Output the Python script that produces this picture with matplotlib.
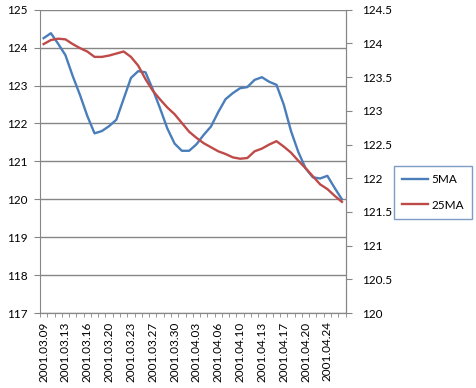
import matplotlib
matplotlib.use('Agg')
import matplotlib.pyplot as plt
import numpy as np

plt.rcParams['font.family'] = ['Lato', 'DejaVu Sans']

# dates (trading days incl. saturdays)
dates = ['2001.03.09', '2001.03.10', '2001.03.12', '2001.03.13', '2001.03.14', '2001.03.15',
         '2001.03.16', '2001.03.17', '2001.03.19', '2001.03.20', '2001.03.21', '2001.03.22',
         '2001.03.23', '2001.03.24', '2001.03.26', '2001.03.27', '2001.03.28', '2001.03.29',
         '2001.03.30', '2001.03.31', '2001.04.02', '2001.04.03', '2001.04.04', '2001.04.05',
         '2001.04.06', '2001.04.07', '2001.04.09', '2001.04.10', '2001.04.11', '2001.04.12',
         '2001.04.13', '2001.04.14', '2001.04.16', '2001.04.17', '2001.04.18', '2001.04.19',
         '2001.04.20', '2001.04.21', '2001.04.23', '2001.04.24', '2001.04.25', '2001.04.26']

ma5 = [124.25, 124.38, 124.1, 123.8, 123.25, 122.75, 122.2, 121.74, 121.8, 121.93,
       122.1, 122.65, 123.2, 123.38, 123.35, 122.9, 122.4, 121.87, 121.47, 121.28,
       121.28, 121.45, 121.7, 121.92, 122.3, 122.64, 122.8, 122.93, 122.96, 123.15,
       123.22, 123.1, 123.02, 122.5, 121.8, 121.25, 120.82, 120.58, 120.55, 120.62,
       120.3, 120.0]

ma25 = [123.99, 124.05, 124.07, 124.06, 123.99, 123.93, 123.88, 123.8, 123.8, 123.82,
        123.85, 123.88, 123.8, 123.67, 123.47, 123.3, 123.17, 123.05, 122.95, 122.82,
        122.69, 122.6, 122.52, 122.46, 122.4, 122.36, 122.31, 122.29, 122.3, 122.4,
        122.44, 122.5, 122.55, 122.47, 122.38, 122.26, 122.15, 122.03, 121.91, 121.84,
        121.74, 121.65]

left_ticks = [117, 118, 119, 120, 121, 122, 123, 124, 125]
right_ticks = [120, 120.5, 121, 121.5, 122, 122.5, 123, 123.5, 124, 124.5]

grey = '#868686'
blue = '#4A7EBB'
red = '#BE4B48'
fs = 8.5

fig = plt.figure(figsize=(4.76, 3.88), dpi=100)
ax = fig.add_axes([0.084, 0.193, 0.642, 0.782])
ax2 = ax.twinx()

x = np.arange(len(dates))
l1, = ax.plot(x, ma5, color=blue, lw=1.7, label='5MA')
l2, = ax2.plot(x, ma25, color=red, lw=1.7, label='25MA')

ax.set_xlim(-0.5, len(dates) - 0.5)
ax.set_ylim(117, 125)
ax2.set_ylim(120, 124.5)

ax.set_yticks(left_ticks)
ax.set_yticklabels([str(v) for v in left_ticks])
ax2.set_yticks(right_ticks)
ax2.set_yticklabels(['%g' % v for v in right_ticks])

ax.set_xticks(x[::3])
ax.set_xticklabels(dates[::3], rotation=90, va='top', ha='center')
ax.set_xticks(np.arange(-0.5, len(dates)), minor=True)
ax.tick_params(axis='x', which='major', length=0, pad=6, labelsize=fs)
ax.tick_params(axis='x', which='minor', length=3, color=grey, direction='out')
ax.tick_params(axis='y', length=4, color=grey, pad=5, labelsize=fs)
ax2.tick_params(axis='y', length=4, color=grey, pad=8, labelsize=fs)

ax.grid(axis='y', color=grey, lw=1)
ax.set_axisbelow(True)
ax.spines['top'].set_visible(False)
ax2.spines['top'].set_visible(False)
for a in (ax, ax2):
    for sp in ['left', 'right', 'bottom']:
        a.spines[sp].set_color(grey)
ax2.spines['left'].set_visible(False)

leg = fig.legend(handles=[l1, l2], loc='center', bbox_to_anchor=(0.9097, 0.504),
                 fontsize=fs, frameon=True, fancybox=False, framealpha=1,
                 edgecolor='#7F9CC4', handlelength=2.2, labelspacing=1.2,
                 borderpad=0.7, handletextpad=0.3)
leg.get_frame().set_linewidth(1)

fig.savefig('out.png', dpi=100)
